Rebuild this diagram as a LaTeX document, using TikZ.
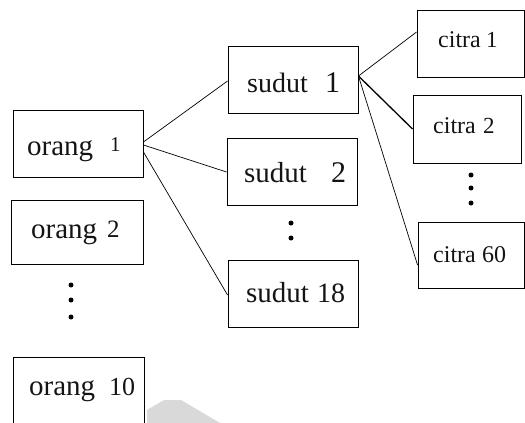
\documentclass[tikz,border=0pt]{standalone}
\usepackage{fontspec}
\setmainfont{Liberation Serif}
\newcommand\txtsize[1]{\fontsize{#1}{#1}\selectfont}
\begin{document}
\begin{tikzpicture}[x=1pt,y=-1pt,
  box/.style={draw, line width=0.9pt, inner sep=0pt},
  word/.style={anchor=base west, inner sep=0pt, text=black!92},
  link/.style={line width=0.7pt},
  heavylink/.style={line width=1.3pt},
  vdot/.style={circle, fill=black, inner sep=0pt, minimum size=5pt}
]
\useasboundingbox (0,0) rectangle (525,423);
\clip (0,0) rectangle (525,423);

% faint mark near the bottom edge
\fill[gray!30] (147,423) -- (147,410) -- (164,400) -- (181,400) -- (220,423) -- cycle;

% first column: orang
\node[box, minimum width=130pt, minimum height=67pt] (o1) at (78,143.5) {};
\node[box, minimum width=132pt, minimum height=64pt] (o2) at (77,232) {};
\node[box, minimum width=131pt, minimum height=73pt] (o10) at (78.5,393.5) {};

\node[word] (o1w) at (27,155) {\txtsize{29}orang};
\node[word] (o1n) at (110,151.5) {\txtsize{21}1};
\node[word] (o2w) at (31,238) {\txtsize{29}orang};
\node[word] (o2n) at (107,237) {\txtsize{25}2};
\node[word] (o10w) at (29,395) {\txtsize{29}orang};
\node[word] (o10n) at (109,395) {\txtsize{26}10};

\node[vdot] (od1) at (71,285) {};
\node[vdot] (od2) at (71,300) {};
\node[vdot] (od3) at (71,317) {};

% second column: sudut
\node[box, minimum width=130pt, minimum height=67pt] (s1) at (293,79.5) {};
\node[box, minimum width=130pt, minimum height=67pt] (s2) at (292,171.5) {};
\node[box, minimum width=130pt, minimum height=67pt] (s18) at (293,293.5) {};

\node[word] (s1w) at (247,92) {\txtsize{28}sudut};
\node[word] (s1n) at (325,92) {\txtsize{30}1};
\node[word] (s2w) at (244,182) {\txtsize{29}sudut};
\node[word] (s2n) at (331,182) {\txtsize{30}2};
\node[word] (s18w) at (246,302) {\txtsize{29}sudut};
\node[word] (s18n) at (317,302) {\txtsize{28}18};

\node[vdot] (sd1) at (291,223) {};
\node[vdot] (sd2) at (291,238) {};

% third column: citra
\node[box, minimum width=107pt, minimum height=67pt] (c1) at (470.5,43.5) {};
\node[box, minimum width=108pt, minimum height=68pt] (c2) at (467,129) {};
\node[box, minimum width=106pt, minimum height=66pt] (c60) at (471,255) {};

\node[word] (c1w) at (438,47) {\txtsize{24}citra};
\node[word] (c1n) at (486,47) {\txtsize{23}1};
\node[word] (c2w) at (433,133) {\txtsize{24}citra};
\node[word] (c2n) at (483,133) {\txtsize{23}2};
\node[word] (c60w) at (433,262) {\txtsize{24}citra};
\node[word] (c60n) at (482,262) {\txtsize{24}60};

\node[vdot] (cd1) at (471,175) {};
\node[vdot] (cd2) at (471,188) {};
\node[vdot] (cd3) at (471,203) {};

% connectors orang 1 -> sudut
\draw[link] ([yshift=1.5pt]o1.east) -- ([yshift=-1.5pt]s1.west);
\draw[link] ([yshift=-1.5pt]o1.east) -- ([yshift=-0.5pt]s2.west);
\draw[link] ([yshift=-8.5pt]o1.east) -- ([yshift=-1.5pt]s18.west);

% connectors sudut 1 -> citra
\draw[link] ([yshift=3.5pt]s1.east) -- ([yshift=11.5pt]c1.west);
\draw[heavylink] ([yshift=3.5pt]s1.east) -- (c2.west);
\draw[link] ([yshift=3.5pt]s1.east) -- ([yshift=-10pt]c60.west);
\end{tikzpicture}
\end{document}
